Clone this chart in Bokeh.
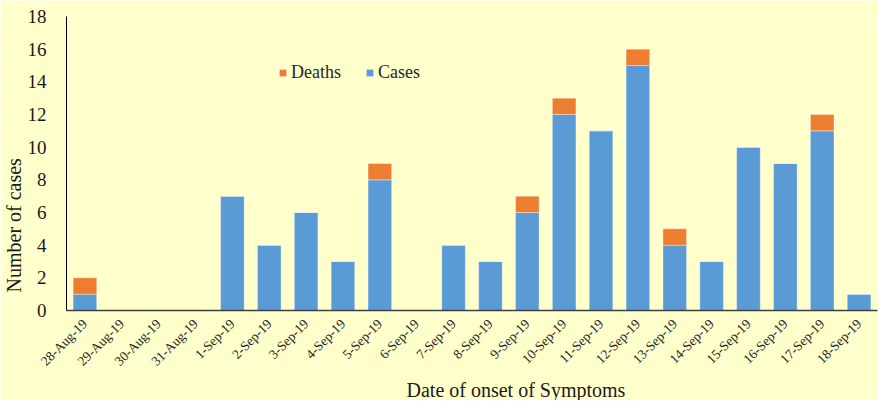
from math import pi
from bokeh.plotting import figure
from bokeh.models import FactorRange, Range1d, Legend, LegendItem, Title, ColumnDataSource, FixedTicker
from bokeh.embed import file_html
from bokeh.resources import INLINE

dates = ["28-Aug-19", "29-Aug-19", "30-Aug-19", "31-Aug-19", "1-Sep-19", "2-Sep-19",
         "3-Sep-19", "4-Sep-19", "5-Sep-19", "6-Sep-19", "7-Sep-19", "8-Sep-19",
         "9-Sep-19", "10-Sep-19", "11-Sep-19", "12-Sep-19", "13-Sep-19", "14-Sep-19",
         "15-Sep-19", "16-Sep-19", "17-Sep-19", "18-Sep-19"]
cases = [1, 0, 0, 0, 7, 4, 6, 3, 8, 0, 4, 3, 6, 12, 11, 15, 4, 3, 10, 9, 11, 1]
deaths = [1, 0, 0, 0, 0, 0, 0, 0, 1, 0, 0, 0, 1, 1, 0, 1, 1, 0, 0, 0, 1, 0]
y_ticks = [0, 2, 4, 6, 8, 10, 12, 14, 16, 18]

BG = "#FFFFCC"
FONT = "Liberation Serif"

src = ColumnDataSource(dict(dates=dates, cases=cases, deaths=deaths))

p = figure(width=878, height=400, output_backend="svg", toolbar_location=None,
           x_range=FactorRange(factors=dates, range_padding=0),
           y_range=Range1d(0, 18),
           min_border_left=65, min_border_right=1, min_border_top=16, min_border_bottom=0,
           background_fill_color=BG, border_fill_color=BG, outline_line_color=None)

rs = p.vbar_stack(["cases", "deaths"], x="dates", width=0.64, source=src,
                  color=["#5B9BD5", "#ED7D31"], line_color="white", line_alpha=0.35, line_width=1)

p.xgrid.grid_line_color = None
p.ygrid.grid_line_color = None

p.yaxis.ticker = FixedTicker(ticks=y_ticks)
p.yaxis.major_tick_line_color = None
p.yaxis.minor_tick_line_color = None
p.yaxis.axis_line_color = "#000000"
p.yaxis.major_label_text_font = FONT
p.yaxis.major_label_text_font_size = "19px"
p.yaxis.major_label_text_color = "#1a1a1a"
p.yaxis.major_label_standoff = 14

p.xaxis.major_tick_line_color = None
p.xaxis.minor_tick_line_color = None
p.xaxis.axis_line_color = "#404040"
p.xaxis.axis_line_width = 1.5
p.xaxis.major_label_orientation = pi / 4
p.xaxis.major_label_text_font = FONT
p.xaxis.major_label_text_font_size = "13.5px"
p.xaxis.major_label_text_color = "#262626"
p.xaxis.major_label_standoff = 5

yt = Title(text="Number of cases", align="left", offset=18, standoff=0,
           text_font=FONT, text_font_size="20px", text_font_style="normal", text_color="#1a1a1a")
p.add_layout(yt, "left")
xt = Title(text="Date of onset of Symptoms", align="left", offset=340, standoff=0,
           text_font=FONT, text_font_size="20px", text_font_style="normal", text_color="#1a1a1a")
p.add_layout(xt, "below")

legend = Legend(items=[LegendItem(label="Deaths", renderers=[rs[1]]),
                       LegendItem(label="Cases", renderers=[rs[0]])],
                orientation="horizontal", location=(212, 227),
                background_fill_alpha=0, border_line_color=None,
                padding=0, margin=0, spacing=24, label_standoff=4,
                glyph_width=9, glyph_height=9,
                label_text_font=FONT, label_text_font_size="18px", label_text_color="#262626")
p.add_layout(legend, "center")

open("out.html", "w").write(file_html(p, INLINE))
